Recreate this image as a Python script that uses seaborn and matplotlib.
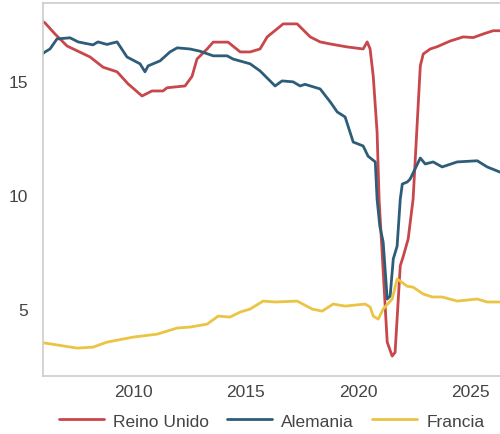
import pandas as pd
import numpy as np
import seaborn as sns
import matplotlib.pyplot as plt

# Values (decimal years, %)
uk_years = [2006.0, 2006.09, 2006.53, 2007.07, 2008.09, 2008.67, 2009.29, 2009.78, 2010.4,
            2010.84, 2011.33, 2011.51, 2012.31, 2012.62, 2012.84, 2013.29, 2013.56, 2014.22,
            2014.76, 2015.2, 2015.64, 2015.96, 2016.67, 2017.29, 2017.87, 2018.31, 2018.76,
            2019.51, 2020.22, 2020.4, 2020.53, 2020.67, 2020.84, 2020.93, 2021.29, 2021.51,
            2021.64, 2021.87, 2022.0, 2022.22, 2022.44, 2022.76, 2022.89, 2023.2, 2023.51,
            2024.09, 2024.67, 2025.11, 2025.56, 2026.0, 2026.31]
uk_values = [17.6, 17.54, 17.06, 16.53, 16.05, 15.6, 15.4, 14.87, 14.34,
             14.56, 14.56, 14.7, 14.78, 15.2, 15.96, 16.4, 16.7, 16.7,
             16.27, 16.27, 16.4, 16.93, 17.5, 17.5, 16.93, 16.71, 16.62,
             16.49, 16.4, 16.71, 16.4, 15.2, 12.76, 9.8, 3.55, 2.94,
             3.1, 6.9, 7.3, 8.07, 9.82, 15.66, 16.18, 16.4, 16.5,
             16.75, 16.93, 16.9, 17.06, 17.2, 17.2]

de_years = [2006.0, 2006.09, 2006.31, 2006.62, 2007.2, 2007.56, 2008.22, 2008.44, 2008.84,
            2009.29, 2009.73, 2010.31, 2010.53, 2010.67, 2011.2, 2011.64, 2011.96, 2012.53,
            2012.98, 2013.56, 2014.18, 2014.44, 2015.2, 2015.64, 2016.31, 2016.62, 2017.11,
            2017.42, 2017.64, 2018.31, 2018.76, 2019.07, 2019.42, 2019.78, 2020.22, 2020.44,
            2020.76, 2020.84, 2020.96, 2021.11, 2021.29, 2021.42, 2021.56, 2021.73, 2021.87,
            2021.96, 2022.18, 2022.31, 2022.76, 2022.98, 2023.33, 2023.73, 2024.4, 2025.29,
            2025.73, 2026.31]
de_values = [16.2, 16.27, 16.4, 16.84, 16.89, 16.71, 16.58, 16.71, 16.6,
             16.71, 16.05, 15.75, 15.4, 15.66, 15.88, 16.27, 16.45, 16.4,
             16.3, 16.1, 16.1, 15.96, 15.75, 15.44, 14.78, 15.0, 14.96,
             14.78, 14.85, 14.65, 14.08, 13.64, 13.42, 12.32, 12.15, 11.7,
             11.45, 9.82, 8.64, 7.94, 5.44, 5.57, 7.2, 7.76, 9.82,
             10.48, 10.57, 10.7, 11.62, 11.36, 11.45, 11.23, 11.45, 11.5,
             11.23, 11.0]

fr_years = [2006.0, 2006.09, 2007.51, 2008.22, 2008.84, 2010.0, 2011.07, 2011.96, 2012.53,
            2013.29, 2013.78, 2014.31, 2014.76, 2015.2, 2015.78, 2016.31, 2017.29, 2017.96,
            2018.4, 2018.89, 2019.42, 2020.31, 2020.53, 2020.67, 2020.89, 2021.11, 2021.51,
            2021.73, 2022.18, 2022.44, 2022.89, 2023.29, 2023.73, 2024.4, 2025.29, 2025.73,
            2026.31]
fr_values = [3.52, 3.51, 3.29, 3.33, 3.55, 3.77, 3.9, 4.17, 4.21,
             4.34, 4.69, 4.65, 4.87, 5.0, 5.35, 5.31, 5.35, 5.0,
             4.91, 5.22, 5.13, 5.22, 5.09, 4.69, 4.56, 5.0, 5.44,
             6.32, 6.0, 5.96, 5.66, 5.53, 5.53, 5.35, 5.44, 5.31,
             5.31]

series_names = ["Reino Unido", "Alemania", "Francia"]
colors = ["#c8474a", "#2d5d78", "#ebc443"]

df = pd.concat([
    pd.DataFrame({"year": uk_years, "value": uk_values, "pais": series_names[0]}),
    pd.DataFrame({"year": de_years, "value": de_values, "pais": series_names[1]}),
    pd.DataFrame({"year": fr_years, "value": fr_values, "pais": series_names[2]}),
])

sns.set_style("white")
plt.rcParams['font.family'] = ['Liberation Sans', 'DejaVu Sans']

fig, ax = plt.subplots(figsize=(5, 4.35), dpi=100)
sns.lineplot(data=df, x="year", y="value", hue="pais", hue_order=series_names,
             palette=colors, linewidth=2.0, ax=ax, sort=True, estimator=None)

ax.set_xlim(2006.0, 2026.3)
ax.set_ylim(2.06, 18.4)
ax.set_xticks([2010, 2015, 2020, 2025])
ax.set_yticks([5, 10, 15])
ax.set_xlabel("")
ax.set_ylabel("")
ax.tick_params(axis="both", length=0, labelsize=12.5, labelcolor="#444444")
ax.tick_params(axis="x", pad=6)
ax.tick_params(axis="y", pad=11)

for side in ["left", "bottom", "top"]:
    ax.spines[side].set_color("#cccccc")
    ax.spines[side].set_linewidth(1.2)
ax.spines["right"].set_visible(False)

ax.legend(loc="upper center", bbox_to_anchor=(0.5, -0.058), ncol=3, frameon=False,
          fontsize=12.5, handlelength=2.6, columnspacing=1.0, handletextpad=0.55,
          labelcolor="#444444")

fig.subplots_adjust(left=0.086, right=1.0, top=0.99, bottom=0.133)
fig.savefig("out.png", dpi=100)
